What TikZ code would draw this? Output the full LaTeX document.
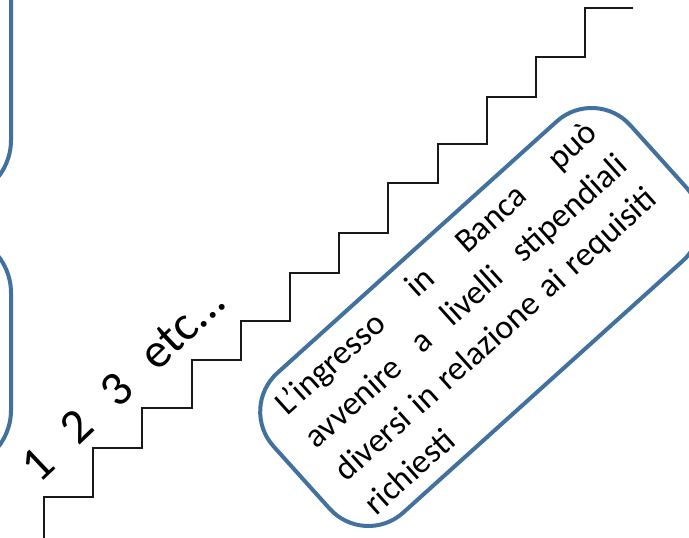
\documentclass[tikz,border=0pt]{standalone}
\usepackage{fontspec}
\setmainfont{Carlito}
\definecolor{boxblue}{RGB}{65,113,156}
\newcommand\jsp{\hskip 0.226em plus 1fill minus 0.14em\relax}
\newcommand\jline[1]{\leavevmode\hbox to 420pt{#1}}
\begin{document}
\begin{tikzpicture}[x=1pt,y=1pt]
\useasboundingbox (0,0) rectangle (689,538);
\clip (0,0) rectangle (689,538);
\tikzset{
  sidebox/.style={draw=boxblue, line width=4pt, rounded corners=60pt},
  stair/.style={draw=black!90, line width=1.5pt},
  notebox/.style={draw=boxblue, line width=4pt, rounded corners=52pt,
    minimum width=480pt, minimum height=188pt, rotate=42, inner sep=0pt,
    text width=420pt, align=left, font=\fontsize{34}{44.6}\selectfont},
  stepnums/.style={rotate=43.5, anchor=center, inner sep=0pt,
    font=\fontsize{49}{56}\selectfont}
}
% partial boxes at the left edge
\draw[sidebox] (-300,640) rectangle (11,338);
\draw[sidebox] (-300,305) rectangle (11,68);
% staircase
\draw[stair] (44,0) -- (44,41) -- (93,41) -- (93,90) -- (142,90) -- (142,130)
  -- (192,130) -- (192,178) -- (241,178) -- (241,217) -- (290,217) -- (290,265)
  -- (339,265) -- (339,305) -- (388,305) -- (388,355) -- (438,355) -- (438,394)
  -- (487,394) -- (487,441) -- (536,441) -- (536,481) -- (585,481) -- (585,530)
  -- (633,530);
% step numbers
\node[stepnums] (nums) at (123,155) {1\hspace{0.6em}2\hspace{0.6em}3\hspace{0.6em}etc...};
% note box
\node[notebox] (note) at (480,221) {%
\jline{L’ingresso\jsp in\jsp Banca\jsp può}\\
\jline{avvenire\jsp a\jsp livelli\jsp stipendiali}\\
\jline{diversi\jsp in\jsp relazione\jsp ai\jsp requisiti}\\
richiesti};
\end{tikzpicture}
\end{document}
